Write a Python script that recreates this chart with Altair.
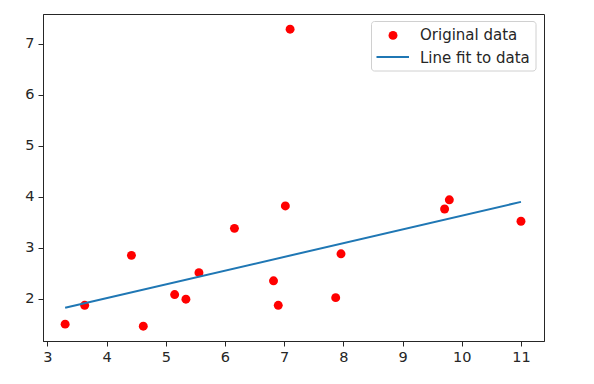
import altair as alt
import pandas as pd

# Data
x_data = [3.30, 3.63, 4.42, 4.62, 5.15, 5.34, 5.56, 6.16, 6.82, 6.90, 7.02, 7.10, 7.87, 7.96, 9.71, 9.79, 11.00]
y_data = [1.50, 1.87, 2.85, 1.46, 2.08, 1.99, 2.51, 3.38, 2.35, 1.87, 3.82, 7.29, 2.02, 2.88, 3.76, 3.94, 3.52]

# fitted line end points
fit_x = [3.30, 11.00]
fit_y = [1.82, 3.90]

legend_labels = ["Original data", "Line fit to data"]
x_ticks = [3, 4, 5, 6, 7, 8, 9, 10, 11]
y_ticks = [2, 3, 4, 5, 6, 7]

pts = pd.DataFrame({"x": x_data, "y": y_data})
fit = pd.DataFrame({"x": fit_x, "y": fit_y})

FONT = "DejaVu Sans"
TXT = "#262626"

xscale = alt.Scale(domain=[2.926, 11.389], nice=False, zero=False)
yscale = alt.Scale(domain=[1.169, 7.588], nice=False, zero=False)

xaxis = alt.Axis(values=x_ticks, format="d", grid=False, tickSize=5, labelPadding=4,
                 labelFontSize=14.5, labelFont=FONT, labelColor=TXT,
                 tickColor=TXT, domainColor=TXT)
yaxis = alt.Axis(values=y_ticks, format="d", grid=False, tickSize=5, labelPadding=4,
                 labelFontSize=14.5, labelFont=FONT, labelColor=TXT,
                 tickColor=TXT, domainColor=TXT)

points = alt.Chart(pts).mark_circle(color="red", size=80, opacity=1).encode(
    x=alt.X("x:Q", scale=xscale, axis=xaxis, title=""),
    y=alt.Y("y:Q", scale=yscale, axis=yaxis, title=""),
)

line = alt.Chart(fit).mark_line(color="#1f77b4", strokeWidth=2).encode(
    x=alt.X("x:Q", scale=xscale, title=""),
    y=alt.Y("y:Q", scale=yscale, title=""),
)

# manual legend
one = pd.DataFrame({"k": [0]})
box = alt.Chart(one).mark_rect(fill="white", fillOpacity=0.8, stroke="#d0d0d0",
                               strokeWidth=1, cornerRadius=3).encode(
    x=alt.value(328.5), x2=alt.value(493), y=alt.value(7.5), y2=alt.value(57)
)
leg_pt = alt.Chart(one).mark_circle(color="red", size=80, opacity=1).encode(
    x=alt.value(350), y=alt.value(21.4)
)
leg_ln = alt.Chart(one).mark_rule(color="#1f77b4", strokeWidth=2).encode(
    x=alt.value(333.5), x2=alt.value(366), y=alt.value(43)
)
leg_txt1 = alt.Chart(pd.DataFrame({"label": [legend_labels[0]]})).mark_text(
    align="left", baseline="middle", fontSize=15, font=FONT, color=TXT
).encode(x=alt.value(377), y=alt.value(21), text="label:N")
leg_txt2 = alt.Chart(pd.DataFrame({"label": [legend_labels[1]]})).mark_text(
    align="left", baseline="middle", fontSize=15, font=FONT, color=TXT
).encode(x=alt.value(377), y=alt.value(44), text="label:N")

chart = alt.layer(points, line, box, leg_pt, leg_ln, leg_txt1, leg_txt2).properties(
    width=501, height=327,
    autosize="none",
    padding={"left": 35, "top": 6, "right": 30, "bottom": 30},
).configure_view(stroke=TXT, strokeWidth=1)

chart.save("out.html", embed_options={"renderer": "svg", "actions": False})
